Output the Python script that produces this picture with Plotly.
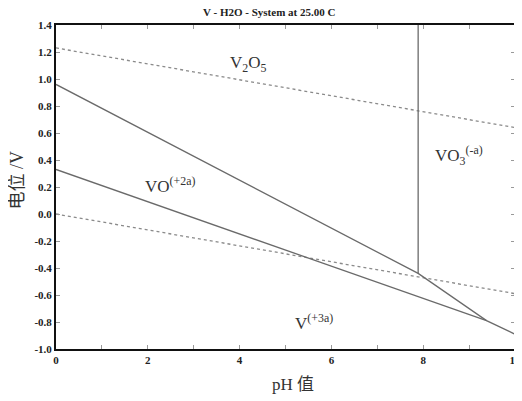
import plotly.graph_objects as go

# ---- data ----
ph_o2 = [0, 10]
e_o2 = [1.23, 0.64]
ph_h2 = [0, 10]
e_h2 = [0.0, -0.59]
ph_upper = [0, 7.89, 9.38, 10]
e_upper = [0.96, -0.44, -0.79, -0.89]
ph_lower = [0, 9.38]
e_lower = [0.33, -0.79]
ph_vert = [7.89, 7.89]
e_vert = [1.4, -0.44]

species = ["V<sub>2</sub>O<sub>5</sub>", "VO<sub>3</sub><sup>(-a)</sup>",
           "VO<sup>(+2a)</sup>", "V<sup>(+3a)</sup>"]
species_ph = [4.2, 8.79, 2.49, 5.63]
species_e = [1.11, 0.43, 0.215, -0.80]

x_tickvals = list(range(0, 11))
x_ticktext = ["0", "", "2", "", "4", "", "6", "", "8", "", "10"]
y_tickvals = [1.4, 1.2, 1.0, 0.8, 0.6, 0.4, 0.2, 0.0, -0.2, -0.4, -0.6, -0.8, -1.0]
y_ticktext = ["1.4", "1.2", "1.0", "0.8", "0.6", "0.4", "0.2", "0.0",
              "-0.2", "-0.4", "-0.6", "-0.8", "-1.0"]

SERIF = "Liberation Serif, Times New Roman, Noto Sans CJK SC, serif"
LINE = "#6a6a6a"

fig = go.Figure()
for xs, ys, dash in [(ph_o2, e_o2, "dot"), (ph_h2, e_h2, "dot"),
                     (ph_upper, e_upper, "solid"), (ph_lower, e_lower, "solid"),
                     (ph_vert, e_vert, "solid")]:
    fig.add_trace(go.Scatter(x=xs, y=ys, mode="lines",
                             line=dict(color=LINE if dash == "solid" else "#8a8a8a",
                                       width=1.3, dash=dash),
                             showlegend=False, hoverinfo="skip"))

for name, px, pe in zip(species, species_ph, species_e):
    fig.add_annotation(x=px, y=pe, text=name, showarrow=False,
                       font=dict(family=SERIF, size=17, color="#333333"))

fig.add_annotation(xref="paper", yref="paper", x=0.463, y=1.0, yshift=13,
                   yanchor="middle",
                   text="<b>V - H2O - System at 25.00 C</b>", showarrow=False,
                   font=dict(family=SERIF, size=11, color="#222222"))
fig.add_annotation(xref="paper", yref="paper", x=0.517, y=0, yshift=-35,
                   yanchor="middle",
                   text="pH 值", showarrow=False,
                   font=dict(family=SERIF, size=17, color="#333333"))
fig.add_annotation(xref="paper", yref="paper", x=0, xshift=-39, y=0.52,
                   xanchor="center", yanchor="middle",
                   text="电位 /V", textangle=-90, showarrow=False,
                   font=dict(family=SERIF, size=18, color="#333333"))

tick_font = dict(family=SERIF, size=11, color="#222222", weight="bold")
axis_common = dict(showline=True, linewidth=2, linecolor="#111111", mirror="ticks",
                   ticks="inside", ticklen=4, tickcolor="#999999", tickwidth=1,
                   showgrid=False, zeroline=False, automargin=False,
                   ticklabeloverflow="allow", tickfont=tick_font)

fig.update_xaxes(range=[0, 10], tickvals=x_tickvals, ticktext=x_ticktext, **axis_common)
fig.update_yaxes(range=[-1.0, 1.4], tickvals=y_tickvals, ticktext=y_ticktext, **axis_common)
fig.update_layout(width=514, height=393, margin=dict(l=48, r=7, t=17, b=52),
                  paper_bgcolor="white", plot_bgcolor="white",
                  font=dict(family=SERIF))

fig.write_html("out.html")
